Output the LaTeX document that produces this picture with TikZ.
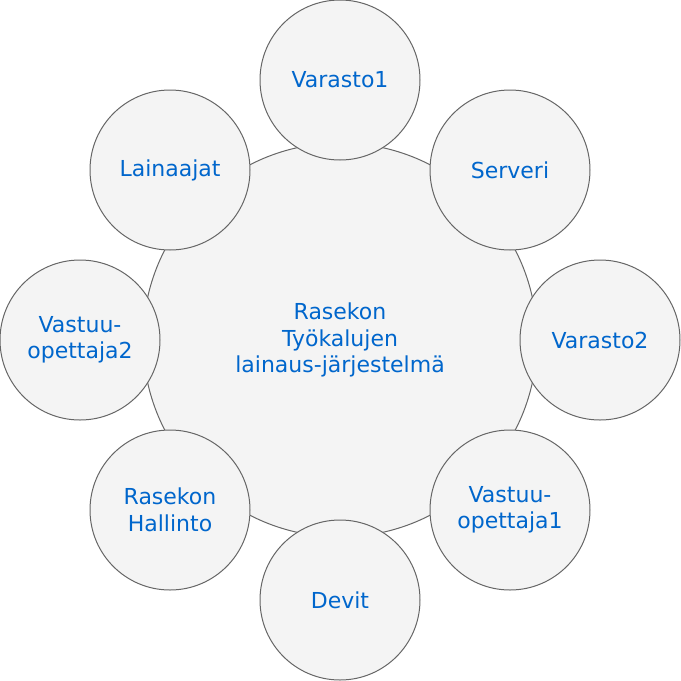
\documentclass[tikz,border=0pt]{standalone}
\usepackage{fontspec}
\setmainfont{DejaVu Sans}
\usepackage{xcolor}
\definecolor{txtblue}{HTML}{0066CC}
\definecolor{ringgray}{HTML}{666666}
\definecolor{fillgray}{HTML}{F4F4F4}
\usetikzlibrary{positioning}

\begin{document}
\begin{tikzpicture}[
   x=1pt, y=-1pt,
   ball/.style={circle, draw=ringgray, fill=fillgray, line width=1pt, align=center,
      text=txtblue, font=\fontsize{22}{26.5}\selectfont, inner sep=0pt},
   part/.style={ball, minimum size=160pt},
   hub/.style={ball, minimum size=394pt}
]
\useasboundingbox (0,0) rectangle (681,681);
\node[hub] (sys) at (340,340) {Rasekon\\ Työkalujen\\ lainaus-järjestelmä};
\node[part] (var1) at (340,80) {Varasto1};
\node[part] (serv) at (510,170) {Serveri};
\node[part] (var2) at (600,340) {Varasto2};
\node[part] (vo1) at (510,510) {Vastuu-\\ opettaja1};
\node[part] (dev) at (340,600) {Devit};
\node[part] (hall) at (170,510) {Rasekon\\ Hallinto};
\node[part] (vo2) at (80,340) {Vastuu-\\ opettaja2};
\node[part] (lain) at (170,170) {Lainaajat};
\end{tikzpicture}
\end{document}
